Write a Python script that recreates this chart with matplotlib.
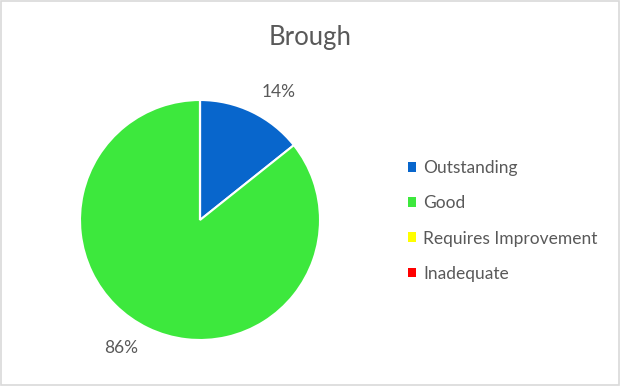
import numpy as np
import matplotlib.pyplot as plt
from matplotlib.patches import Rectangle, Patch

plt.rcParams['font.family'] = ['Lato', 'DejaVu Sans']

title = 'Brough'
categories = ['Outstanding', 'Good', 'Requires Improvement', 'Inadequate']
values = [1, 6, 0, 0]
colors = ['#0866CC', '#3DE83D', '#FFFF00', '#FF0000']
text_color = '#595959'

fig = plt.figure(figsize=(6.2, 3.86), dpi=100)

# pie axes: centre ~ (200, 220) px, radius ~120 px
ax = fig.add_axes([80 / 620, 46 / 386, 240 / 620, 240 / 386])
wedges, texts, autotexts = ax.pie(
    values, colors=colors, startangle=90, counterclock=False,
    autopct=lambda p: f'{p:.0f}%' if p > 0 else '',
    pctdistance=1.25, radius=1,
    wedgeprops=dict(edgecolor='white', linewidth=1.5),
    textprops=dict(color=text_color, fontsize=12.5))

# Excel puts the labels a little clockwise of the wedge middle
rot = np.deg2rad(-6)
for t in autotexts:
    x, y = t.get_position()
    t.set_position((x * np.cos(rot) - y * np.sin(rot), x * np.sin(rot) + y * np.cos(rot)))

ax.set_xlim(-1, 1)
ax.set_ylim(-1, 1)
ax.set_aspect('equal')
ax.axis('off')

fig.text(0.5, 1 - 37 / 386, title, ha='center', va='center',
         fontsize=18.5, color=text_color)

handles = [Patch(facecolor=c, edgecolor='none') for c in colors]
fig.legend(handles, categories, loc='center left',
           bbox_to_anchor=(392 / 620, 1 - 221 / 386), frameon=False,
           fontsize=12.5, labelcolor=text_color, handlelength=0.5,
           handleheight=0.5, handletextpad=0.4, labelspacing=1.1)

# light grey chart border
fig.patches.append(Rectangle((0.002, 0.003), 0.996, 0.994, transform=fig.transFigure,
                             fill=False, edgecolor='#D9D9D9', linewidth=1.2))

fig.savefig('out.png', dpi=100)
